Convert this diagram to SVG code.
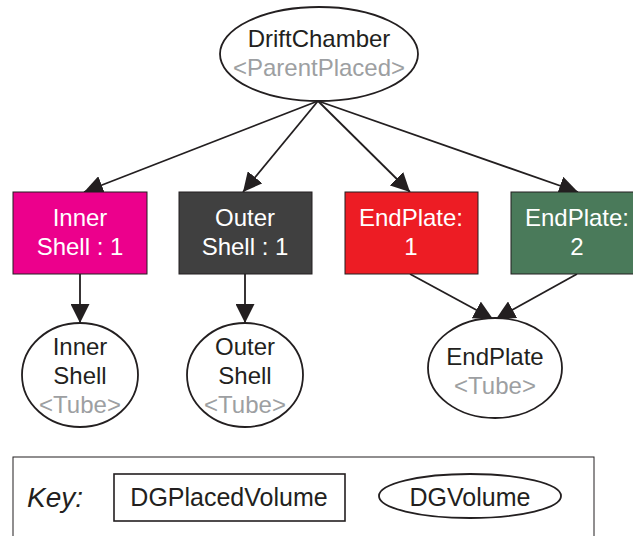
<svg xmlns="http://www.w3.org/2000/svg" width="633" height="536" viewBox="0 0 633 536">
<defs>
<marker id="arr" viewBox="0 0 19 19" refX="19" refY="9.5" markerWidth="19" markerHeight="19" markerUnits="userSpaceOnUse" orient="auto">
<path d="M0,0 L19,9.5 L0,19 Z" fill="#231f20"/>
</marker>
<style>
text{font-family:"Liberation Sans",Arial,sans-serif;font-size:24px;text-anchor:middle}
.dk{fill:#231f20}
.gr{fill:#9d9fa2}
.wh{fill:#ffffff}
.ell{fill:#ffffff;stroke:#231f20;stroke-width:1.8}
.box{stroke:#231f20;stroke-width:1}
.edge{fill:none;stroke:#231f20;stroke-width:1.8;marker-end:url(#arr)}
</style>
</defs>
<rect width="633" height="536" fill="#ffffff"/>
<g id="connectors">
<line class="edge" x1="318" y1="101" x2="84" y2="192"/>
<line class="edge" x1="318" y1="101" x2="243" y2="192"/>
<line class="edge" x1="318" y1="101" x2="410" y2="192"/>
<line class="edge" x1="318" y1="101" x2="578" y2="192"/>
<line class="edge" x1="80" y1="274" x2="80" y2="323"/>
<line class="edge" x1="245" y1="274" x2="245" y2="323"/>
<line class="edge" x1="410" y1="274" x2="493" y2="319"/>
<line class="edge" x1="577" y1="274" x2="496" y2="319"/>
</g>
<g id="DriftChamber">
<ellipse class="ell" cx="319" cy="54" rx="99" ry="47"/>
<text class="dk" x="319" y="47">DriftChamber</text>
<text class="gr" x="319" y="76">&lt;ParentPlaced&gt;</text>
</g>
<g id="InnerShellPlaced">
<rect class="box" x="13" y="192" width="134" height="82" fill="#ec008c"/>
<text class="wh" x="80" y="226">Inner</text>
<text class="wh" x="80" y="255">Shell : 1</text>
</g>
<g id="OuterShellPlaced">
<rect class="box" x="179" y="192" width="133" height="82" fill="#404040"/>
<text class="wh" x="245" y="226">Outer</text>
<text class="wh" x="245" y="255">Shell : 1</text>
</g>
<g id="EndPlate1">
<rect class="box" x="345" y="192" width="133" height="82" fill="#ed1c24"/>
<text class="wh" x="411" y="226">EndPlate:</text>
<text class="wh" x="411" y="255">1</text>
</g>
<g id="EndPlate2">
<rect class="box" x="511" y="192" width="133" height="82" fill="#4a7a5a"/>
<text class="wh" x="577" y="226">EndPlate:</text>
<text class="wh" x="577" y="255">2</text>
</g>
<g id="InnerShell">
<ellipse class="ell" cx="80" cy="375" rx="58" ry="52"/>
<text class="dk" x="80" y="355">Inner</text>
<text class="dk" x="80" y="384">Shell</text>
<text class="gr" x="80" y="413">&lt;Tube&gt;</text>
</g>
<g id="OuterShell">
<ellipse class="ell" cx="245" cy="375" rx="58" ry="52"/>
<text class="dk" x="245" y="355">Outer</text>
<text class="dk" x="245" y="384">Shell</text>
<text class="gr" x="245" y="413">&lt;Tube&gt;</text>
</g>
<g id="EndPlate">
<ellipse class="ell" cx="495" cy="368" rx="67" ry="50"/>
<text class="dk" x="495" y="365">EndPlate</text>
<text class="gr" x="495" y="394">&lt;Tube&gt;</text>
</g>
<g id="Key">
<rect x="13" y="457" width="581" height="90" fill="none" stroke="#231f20" stroke-width="1"/>
<text class="dk" x="55" y="507" style="font-style:italic;font-size:28px">Key:</text>
<rect x="114" y="474" width="231" height="47" fill="none" stroke="#231f20" stroke-width="1.6"/>
<text class="dk" x="229" y="506" style="font-size:25px">DGPlacedVolume</text>
<ellipse class="ell" cx="470" cy="496" rx="91" ry="22"/>
<text class="dk" x="470" y="506" style="font-size:25px">DGVolume</text>
</g>
</svg>
